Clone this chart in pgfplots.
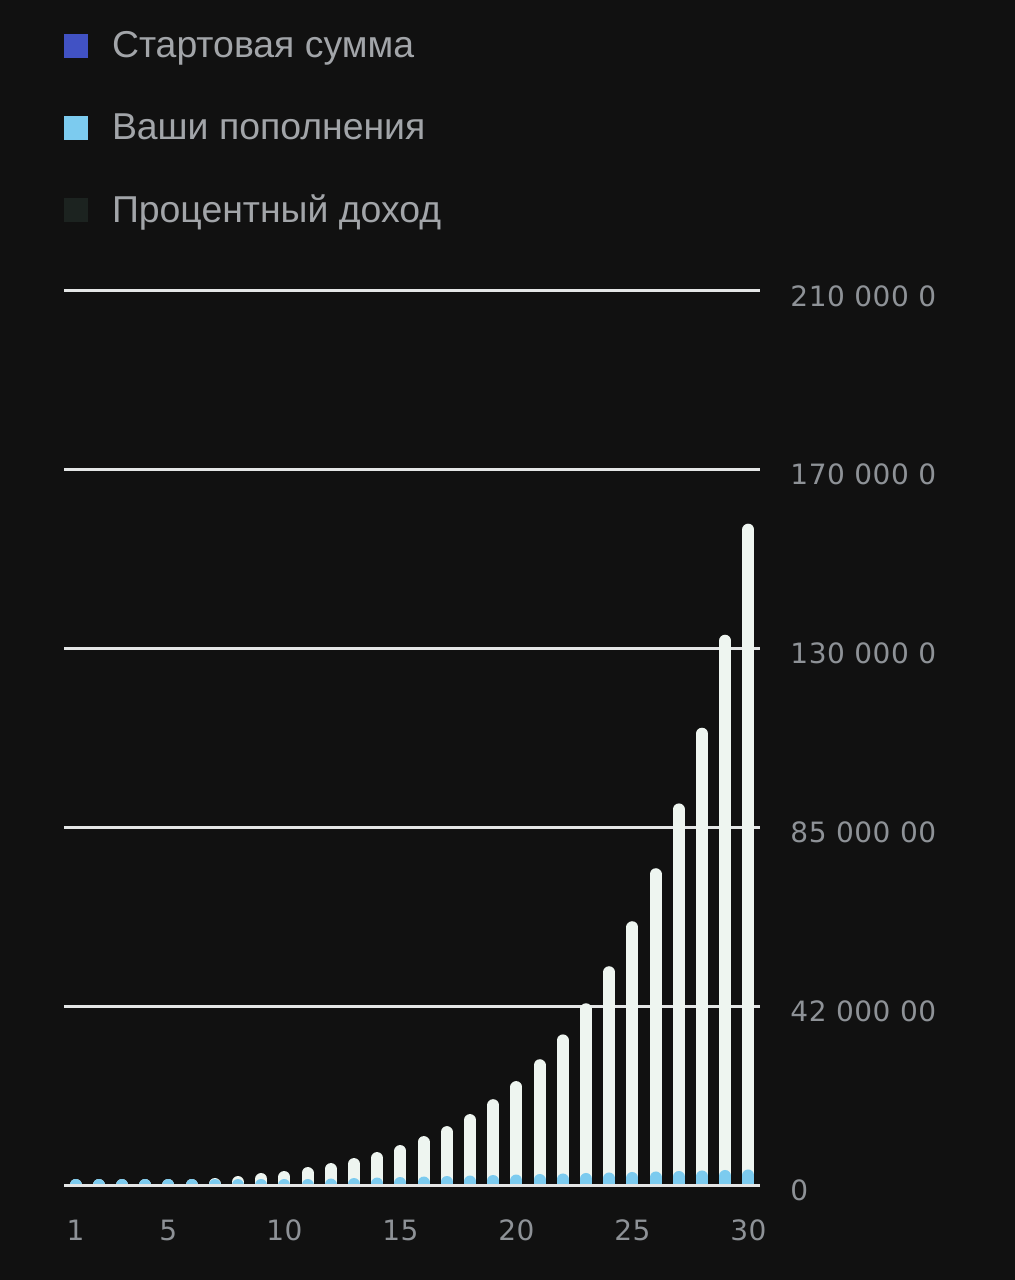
\documentclass[border=0pt]{standalone}
\usepackage{pgfplots}
\pgfplotsset{compat=1.18}
\usepackage{pgfplotstable}
\usepackage{fontspec}
\setmainfont{Liberation Sans}
\newfontfamily\tickfont[LetterSpace=2]{DejaVu Sans}

\definecolor{bg}{HTML}{111111}
\definecolor{gridc}{HTML}{E4E6E6}
\definecolor{barw}{HTML}{EEF5F0}
\definecolor{contribc}{HTML}{7CCBEF}
\definecolor{startc}{HTML}{4152C4}
\definecolor{interestc}{HTML}{1C2320}
\definecolor{labelc}{HTML}{8E9297}
\definecolor{legc}{HTML}{A2A5A9}

% values in millions
\pgfplotstableread{
year start contrib total
1  0.1 0.12 0.25
2  0.1 0.24 0.47
3  0.1 0.36 0.71
4  0.1 0.48 0.83
5  0.1 0.60 0.95
6  0.1 0.72 1.42
7  0.1 0.84 1.66
8  0.1 0.96 2.14
9  0.1 1.08 2.85
10 0.1 1.20 3.32
11 0.1 1.32 4.27
12 0.1 1.44 5.22
13 0.1 1.56 6.41
14 0.1 1.68 7.83
15 0.1 1.80 9.50
16 0.1 1.92 11.63
17 0.1 2.04 14.0
18 0.1 2.16 16.86
19 0.1 2.28 20.4
20 0.1 2.40 24.7
21 0.1 2.52 29.9
22 0.1 2.64 35.8
23 0.1 2.76 43.2
24 0.1 2.88 52.0
25 0.1 3.00 62.7
26 0.1 3.12 75.3
27 0.1 3.24 90.7
28 0.1 3.36 108.7
29 0.1 3.48 130.8
30 0.1 3.60 157.2
}\deposit

\begin{document}
\begin{tikzpicture}
\fill[bg] (0,0) rectangle (507.5pt,640pt);
\useasboundingbox (0,0) rectangle (507.5pt,640pt);
\begin{scope}
\clip (0,0) rectangle (468.5pt,640pt);
\begin{axis}[
    at={(32pt,46.74pt)}, anchor=south west,
    scale only axis, width=348pt, height=447.76pt,
    xmin=0.5, xmax=30.5, ymin=-0.36, ymax=212.5,
    axis line style={draw=none},
    major tick length=0pt,
    xtick={1,5,10,15,20,25,30},
    xticklabels={1,5,10,15,20,25,30},
    ytick={0,42.5,85,127.5,170,212.5},
    yticklabels={0,42 000 000,85 000 000,130 000 000,170 000 000,210 000 000},
    yticklabel pos=right,
    ymajorgrids,
    grid style={gridc, line width=1.5pt},
    tick label style={text=labelc, font=\tickfont\fontsize{14}{16}\selectfont, inner sep=0pt},
    yticklabel style={anchor=west, xshift=15pt, yshift=-2.5pt},
    xticklabel style={anchor=north, yshift=-16.5pt},
    legend cell align=left,
    legend image code/.code={\path[fill] (0pt,-6pt) rectangle (12pt,6pt);},
    legend style={at={(axis description cs:0,1.2898)}, anchor=north west,
        draw=none, fill=none, inner sep=0pt, outer sep=0pt,
        row sep=26.4pt, column sep=12pt,
        nodes={text=legc, font=\fontsize{18.7}{21}\selectfont, inner sep=0pt, anchor=west}},
]
\addlegendimage{fill=startc, draw=none}
\addlegendentry{Стартовая сумма}
\addlegendimage{fill=contribc, draw=none}
\addlegendentry{Ваши пополнения}
\addlegendimage{fill=interestc, draw=none}
\addlegendentry{Процентный доход}

\addplot[ybar, bar width=6pt, fill=startc, draw=none, forget plot]
    table[x=year, y=start] {\deposit};
\addplot[ycomb, barw, line width=6pt, line cap=round, no marks, forget plot]
    table[x=year, y expr=\thisrow{total}-1.43] {\deposit};
\addplot[ycomb, contribc, line width=6pt, line cap=round, no marks, forget plot]
    table[x=year, y expr=\thisrow{start}+\thisrow{contrib}-1.43] {\deposit};
\addplot[gridc, line width=1.5pt, forget plot] coordinates {(0.5,0) (30.5,0)};
\end{axis}
\end{scope}
\end{tikzpicture}
\end{document}
